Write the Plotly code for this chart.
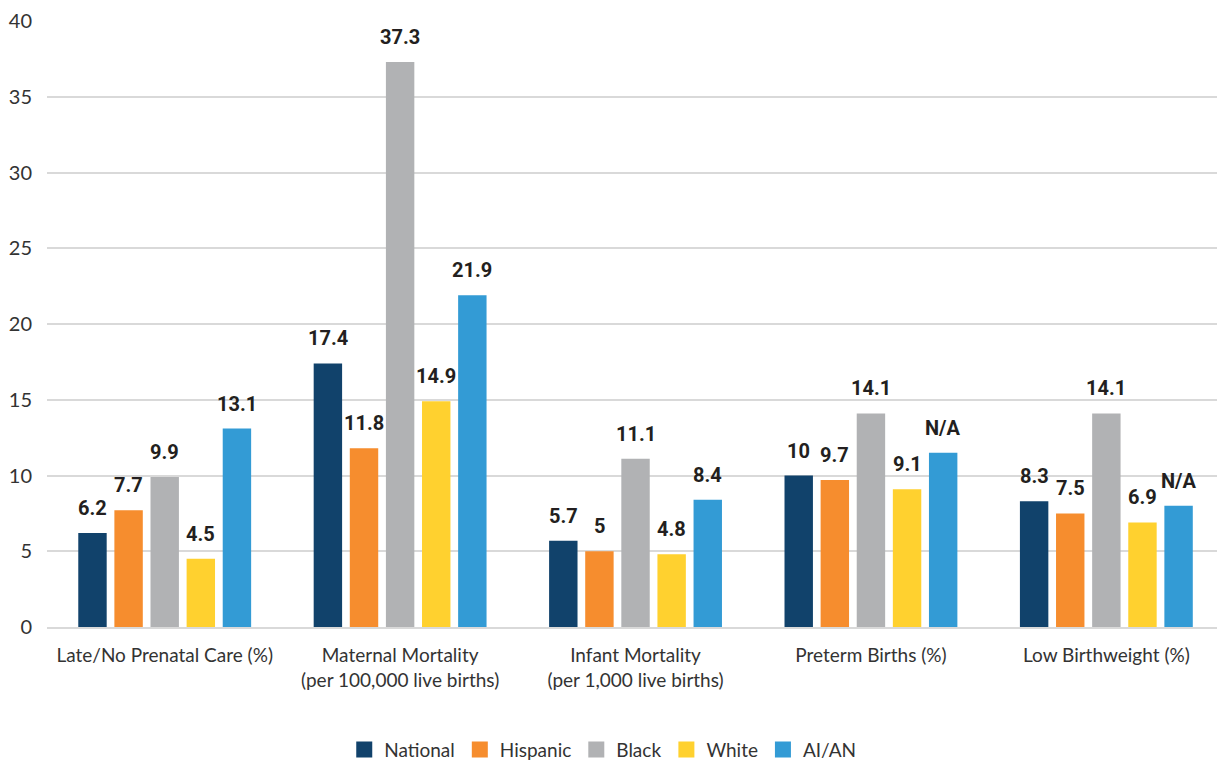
import plotly.graph_objects as go

categories = [
    "Late/No Prenatal Care (%)",
    "Maternal Mortality<br>(per 100,000 live births)",
    "Infant Mortality<br>(per 1,000 live births)",
    "Preterm Births (%)",
    "Low Birthweight (%)",
]
series_names = ["National", "Hispanic", "Black", "White", "AI/AN"]
national = [6.2, 17.4, 5.7, 10, 8.3]
hispanic = [7.7, 11.8, 5, 9.7, 7.5]
black = [9.9, 37.3, 11.1, 14.1, 14.1]
white = [4.5, 14.9, 4.8, 9.1, 6.9]
aian = [13.1, 21.9, 8.4, 11.5, 8.0]
aian_labels = ["13.1", "21.9", "8.4", "N/A", "N/A"]
colors = ["#11426b", "#f68d2e", "#b1b2b4", "#ffd12f", "#339bd5"]

values = [national, hispanic, black, white, aian]
labels = [[f"{v:g}" for v in s] for s in values[:4]] + [aian_labels]

W, H = 1217, 761
margin = dict(l=47, r=0, t=21, b=134)
bargap, groupgap = 0.233, 0.213
x_range = [-0.5, 4.47]
txt = "#333333"

fig = go.Figure()
for name, vals, col in zip(series_names, values, colors):
    fig.add_trace(go.Bar(name=name, x=categories, y=vals, marker_color=col,
                         marker_line_width=0, showlegend=False))
    # square legend swatch
    fig.add_trace(go.Scatter(name=name, x=[None], y=[None], mode="markers",
                             marker=dict(symbol="square", size=17, color=col)))

# value labels placed above each bar, shifted to its slot in the group
plot_w = W - margin["l"] - margin["r"]
cat_w = plot_w / (x_range[1] - x_range[0])
slot = cat_w * (1 - bargap) / len(series_names)
for i, (vals, labs) in enumerate(zip(values, labels)):
    for c, v, t in zip(categories, vals, labs):
        fig.add_annotation(x=c, y=v, text=f"<b>{t}</b>", showarrow=False,
                           xshift=(i - 2) * slot, yshift=25,
                           font=dict(family="Liberation Sans Narrow, Roboto, sans-serif",
                                     size=20, color="#231f20"))

fig.update_layout(
    width=W, height=H, margin=margin,
    barmode="group", bargap=bargap, bargroupgap=groupgap,
    plot_bgcolor="white", paper_bgcolor="white",
    font=dict(family="Lato, sans-serif", size=19, color=txt),
    legend=dict(orientation="h", x=0.475, xanchor="center", yref="container",
                y=0.015, yanchor="middle", font=dict(size=19, color=txt),
                itemwidth=30, traceorder="normal", tracegroupgap=0),
    xaxis=dict(showgrid=False, showline=True, linecolor="#d9d9d9", linewidth=2,
               ticks="", range=x_range, ticklabelstandoff=10,
               tickfont=dict(size=19, color=txt)),
    yaxis=dict(range=[0, 40], dtick=5, showgrid=True, gridcolor="#d9d9d9",
               gridwidth=1.5, zeroline=False, showline=False,
               ticklabelstandoff=14, tickfont=dict(size=20, color=txt)),
)

fig.write_html("out.html")
